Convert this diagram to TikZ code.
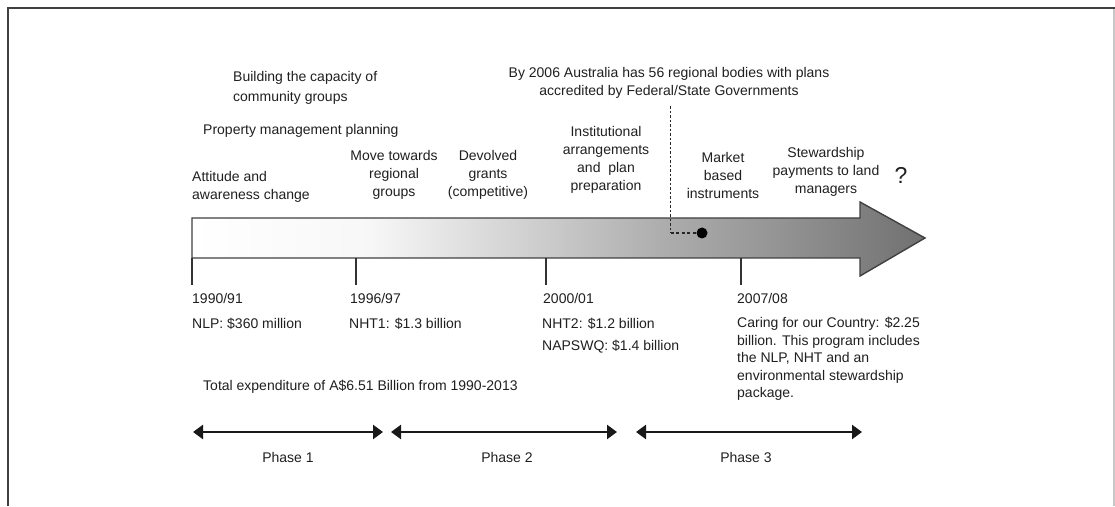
\documentclass[tikz,border=0pt]{standalone}
\usepackage{fontspec}
\setmainfont{Liberation Sans}
\usetikzlibrary{arrows.meta}
\pgfdeclarehorizontalshading{tlshade}{100bp}{color(0bp)=(white); color(25bp)=(white); color(37bp)=(white!97!black); color(49bp)=(black!20); color(57bp)=(black!32); color(65bp)=(black!42); color(75bp)=(black!56); color(100bp)=(black!56)}
\begin{document}
\begin{tikzpicture}[x=1pt,y=1pt,
  txt/.style={inner sep=0pt, font=\fontsize{14pt}{18pt}\selectfont, text=black!88},
  lefttxt/.style={txt, anchor=west, align=left},
  midtxt/.style={txt, anchor=center, align=center},
  tick/.style={draw=black!80, line width=1.6pt},
  phasearrow/.style={line width=2.4pt, draw=black!90, {Triangle[length=10pt,width=14pt]}-{Triangle[length=10pt,width=14pt]}},
  frame/.style={draw=black!75, line width=1.8pt}]
\useasboundingbox (0,0) rectangle (1115,506);
% frame
\draw[frame] (8,0) -- (8,498) -- (1115,498);
\draw[draw=black!22, line width=1.2pt] (1114,0) -- (1114,497);
% main arrow
\path[shading=tlshade, draw=black!75, line width=1.4pt]
  (192,288) -- (860,288) -- (860,304) -- (925,268) -- (860,230) -- (860,248) -- (192,248) -- cycle;
% ticks
\coordinate (t1) at (192,248); \coordinate (t2) at (356,248);
\coordinate (t3) at (546,248); \coordinate (t4) at (741,248);
\foreach \t in {t1,t2,t3,t4} \draw[tick] (\t) -- ++(0,-27);
% top texts
\node[txt, anchor=west, align=left, font=\fontsize{14pt}{20pt}\selectfont] (build) at (233,418) {Building the capacity of\\community groups};
\node[lefttxt] (prop) at (203,375) {Property management planning};
\node[lefttxt] (att) at (192,319) {Attitude and\\awareness change};
\node[midtxt] (move) at (394,331) {Move towards\\regional\\groups};
\node[midtxt] (dev) at (488,331) {Devolved\\grants\\(competitive)};
\node[midtxt] (inst) at (606,346) {Institutional\\arrangements\\and\ \ plan\\preparation};
\node[midtxt] (mkt) at (723,331) {Market\\based\\instruments};
\node[midtxt] (stew) at (826,334) {Stewardship\\payments to land\\managers};
\node[txt, font=\fontsize{23pt}{26pt}\selectfont] (q) at (901,331) {?};
\node[midtxt] (by) at (669,423.5) {By 2006 Australia has 56 regional bodies with plans\\accredited by Federal/State Governments};
% dot and leader
\node[circle, fill=black, inner sep=0pt, minimum size=11pt] (dot) at (702,273) {};
\coordinate (corner) at (670.7,273);
\draw[black!85, line width=1.2pt, dash pattern=on 2.5pt off 2pt] (corner |- by.south) ++(0,-8) -- (corner);
\draw[black!85, line width=1.2pt, dash pattern=on 3pt off 2.5pt] (corner) -- (dot);
% years
\node[lefttxt] (y1) at (192,208) {1990/91};
\node[lefttxt] (y2) at (350,208) {1996/97};
\node[lefttxt] (y3) at (543,208) {2000/01};
\node[lefttxt] (y4) at (737,208) {2007/08};
% money
\node[lefttxt] (m1) at (192,182) {NLP: \$360 million};
\node[lefttxt] (m2) at (349,182) {NHT1: \$1.3 billion};
\node[lefttxt] (m3) at (542,182) {NHT2: \$1.2 billion};
\node[lefttxt] (m4) at (542,159) {NAPSWQ: \$1.4 billion};
\node[txt, anchor=west, align=left, font=\fontsize{14pt}{17.5pt}\selectfont] (care) at (737,147) {Caring for our Country: \$2.25\\billion. This program includes\\the NLP, NHT and an\\environmental stewardship\\package.};
\node[lefttxt] (total) at (203,119) {Total expenditure of A\$6.51 Billion from 1990-2013};
% phases
\coordinate (p1a) at (193,74); \coordinate (p1b) at (383,74);
\coordinate (p2a) at (391,74); \coordinate (p2b) at (617,74);
\coordinate (p3a) at (636,74); \coordinate (p3b) at (862,74);
\draw[phasearrow] (p1a) -- (p1b);
\draw[phasearrow] (p2a) -- (p2b);
\draw[phasearrow] (p3a) -- (p3b);
\node[txt] (ph1) at (288,49) {Phase 1};
\node[txt] (ph2) at (507,49) {Phase 2};
\node[txt] (ph3) at (746,49) {Phase 3};
\end{tikzpicture}
\end{document}
